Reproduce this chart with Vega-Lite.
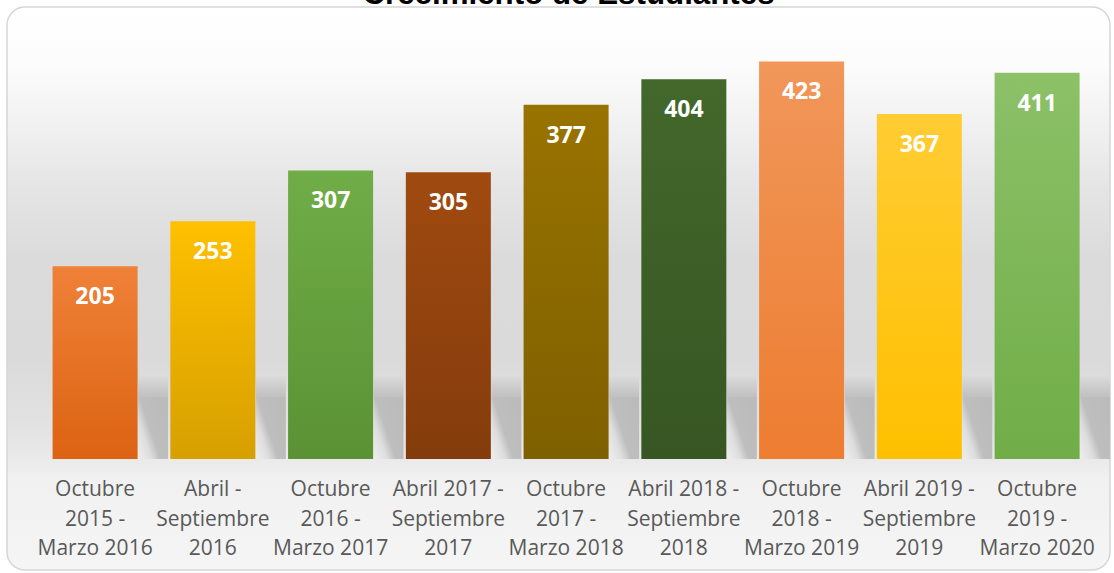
{
  "$schema": "https://vega.github.io/schema/vega-lite/v6.json",
  "width": 1103,
  "height": 563,
  "autosize": {"type": "none"},
  "padding": {"left": 7, "top": 7, "right": 4, "bottom": 3},
  "background": "#ffffff",
  "title": {
    "text": "Crecimiento de Estudiantes",
    "font": "Liberation Sans",
    "fontSize": 31.3,
    "fontWeight": "bold",
    "color": "#000000",
    "anchor": "middle",
    "dx": 10,
    "dy": 28,
    "baseline": "alphabetic",
    "offset": 0
  },
  "config": {
    "view": {
      "stroke": "#d6d6d6",
      "strokeWidth": 1.5,
      "cornerRadius": 18,
      "fill": {
        "gradient": "linear",
        "x1": 0, "y1": 0, "x2": 0, "y2": 1,
        "stops": [
          {"offset": 0, "color": "#ffffff"},
          {"offset": 0.1, "color": "#fcfcfc"},
          {"offset": 0.2, "color": "#f2f2f2"},
          {"offset": 0.33, "color": "#e4e4e4"},
          {"offset": 0.45, "color": "#dbdbdb"},
          {"offset": 0.62, "color": "#dadada"},
          {"offset": 0.74, "color": "#e2e2e2"},
          {"offset": 0.81, "color": "#ebebeb"},
          {"offset": 0.84, "color": "#f1f1f1"},
          {"offset": 1, "color": "#f5f5f5"}
        ]
      }
    }
  },
  "data": {
    "values": [
      {"orden": 1, "periodo": "Octubre\n2015 -\nMarzo 2016", "n": 205},
      {"orden": 2, "periodo": "Abril -\nSeptiembre\n2016", "n": 253},
      {"orden": 3, "periodo": "Octubre\n2016 -\nMarzo 2017", "n": 307},
      {"orden": 4, "periodo": "Abril 2017 -\nSeptiembre\n2017", "n": 305},
      {"orden": 5, "periodo": "Octubre\n2017 -\nMarzo 2018", "n": 377},
      {"orden": 6, "periodo": "Abril 2018 -\nSeptiembre\n2018", "n": 404},
      {"orden": 7, "periodo": "Octubre\n2018 -\nMarzo 2019", "n": 423},
      {"orden": 8, "periodo": "Abril 2019 -\nSeptiembre\n2019", "n": 367},
      {"orden": 9, "periodo": "Octubre\n2019 -\nMarzo 2020", "n": 411}
    ]
  },
  "encoding": {
    "x": {
      "field": "periodo",
      "type": "nominal",
      "sort": null,
      "scale": {"paddingInner": 0.278, "paddingOuter": 0.3226, "align": 0.6},
      "axis": null
    }
  },
  "layer": [
    {
      "mark": {
        "type": "bar",
        "width": 30,
        "xOffset": 58,
        "fill": {
          "gradient": "linear",
          "x1": 0, "y1": 0, "x2": 0, "y2": 1,
          "stops": [
            {"offset": 0, "color": "#dadada"},
            {"offset": 1, "color": "#c0c0c0"}
          ]
        }
      },
      "encoding": {
        "y": {"datum": 88, "type": "quantitative", "scale": {"domain": [-118.1, 480.9], "nice": false, "zero": false}, "axis": null},
        "y2": {"datum": 66}
      }
    },
    {
      "mark": {
        "type": "bar",
        "width": 30,
        "xOffset": 58,
        "fill": {
          "gradient": "linear",
          "x1": 0, "y1": 1, "x2": 1, "y2": 0.3,
          "stops": [
            {"offset": 0, "color": "#eeeeee"},
            {"offset": 0.3, "color": "#dedede"},
            {"offset": 0.5, "color": "#bebebe"},
            {"offset": 1, "color": "#bbbbbb"}
          ]
        }
      },
      "encoding": {
        "y": {"datum": 66, "type": "quantitative", "scale": {"domain": [-118.1, 480.9], "nice": false, "zero": false}, "axis": null},
        "y2": {"datum": 0}
      }
    },
    {
      "mark": {"type": "bar"},
      "encoding": {
        "y": {"field": "n", "type": "quantitative", "scale": {"domain": [-118.1, 480.9], "nice": false, "zero": false}, "axis": null},
        "y2": {"datum": 0},
        "fill": {
          "condition": [
            {"test": "datum.orden === 1", "value": {"gradient": "linear", "x1": 0, "y1": 0, "x2": 0, "y2": 1, "stops": [{"offset": 0, "color": "#ef8138"}, {"offset": 1, "color": "#dc6312"}]}},
            {"test": "datum.orden === 2", "value": {"gradient": "linear", "x1": 0, "y1": 0, "x2": 0, "y2": 1, "stops": [{"offset": 0, "color": "#ffc000"}, {"offset": 1, "color": "#d6a000"}]}},
            {"test": "datum.orden === 3", "value": {"gradient": "linear", "x1": 0, "y1": 0, "x2": 0, "y2": 1, "stops": [{"offset": 0, "color": "#70ad47"}, {"offset": 1, "color": "#5a9234"}]}},
            {"test": "datum.orden === 4", "value": {"gradient": "linear", "x1": 0, "y1": 0, "x2": 0, "y2": 1, "stops": [{"offset": 0, "color": "#a04a10"}, {"offset": 1, "color": "#843c0c"}]}},
            {"test": "datum.orden === 5", "value": {"gradient": "linear", "x1": 0, "y1": 0, "x2": 0, "y2": 1, "stops": [{"offset": 0, "color": "#997300"}, {"offset": 1, "color": "#7f6000"}]}},
            {"test": "datum.orden === 6", "value": {"gradient": "linear", "x1": 0, "y1": 0, "x2": 0, "y2": 1, "stops": [{"offset": 0, "color": "#43682b"}, {"offset": 1, "color": "#375623"}]}},
            {"test": "datum.orden === 7", "value": {"gradient": "linear", "x1": 0, "y1": 0, "x2": 0, "y2": 1, "stops": [{"offset": 0, "color": "#f1975a"}, {"offset": 1, "color": "#ed7d31"}]}},
            {"test": "datum.orden === 8", "value": {"gradient": "linear", "x1": 0, "y1": 0, "x2": 0, "y2": 1, "stops": [{"offset": 0, "color": "#ffcc33"}, {"offset": 1, "color": "#ffc000"}]}}
          ],
          "value": {"gradient": "linear", "x1": 0, "y1": 0, "x2": 0, "y2": 1, "stops": [{"offset": 0, "color": "#8cc168"}, {"offset": 1, "color": "#70ad47"}]}
        }
      }
    },
    {
      "mark": {"type": "text", "font": "Open Sans", "fontSize": 23, "fontWeight": "bold", "color": "#ffffff", "baseline": "alphabetic", "dy": 38},
      "encoding": {
        "y": {"field": "n", "type": "quantitative"},
        "text": {"field": "n", "type": "quantitative"}
      }
    },
    {
      "mark": {"type": "text", "font": "Open Sans", "fontSize": 21, "color": "#595959", "baseline": "alphabetic", "lineBreak": "\n", "lineHeight": 29.5},
      "encoding": {
        "y": {"datum": -39.4, "type": "quantitative"},
        "text": {"field": "periodo", "type": "nominal"}
      }
    }
  ]
}
